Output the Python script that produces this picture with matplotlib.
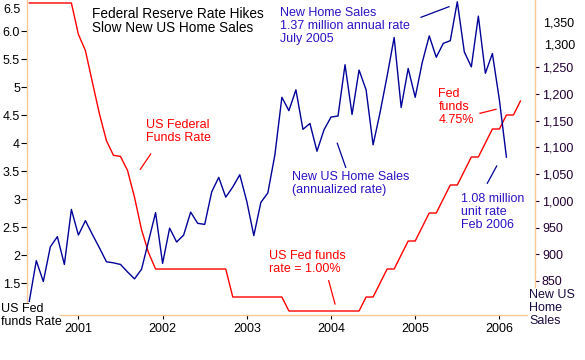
import numpy as np
import pandas as pd
import matplotlib
matplotlib.use('Agg')
import matplotlib.pyplot as plt
from matplotlib.lines import Line2D

plt.rcParams['font.family'] = ['Liberation Sans', 'DejaVu Sans']

W, H = 585, 360

# monthly, Jun 2000 - Apr 2006
months = pd.date_range('2000-06-01', '2006-04-01', freq='MS')
years = np.array(months.year + (months.month - 1) / 12.0)

fed_funds = [6.5, 6.5, 6.5, 6.5, 6.5, 6.5, 6.5,
             5.94, 5.65, 5.08, 4.52, 4.04, 3.78, 3.76, 3.51, 3.03, 2.45, 2.04, 1.75,
             1.75, 1.75, 1.75, 1.75, 1.75, 1.75, 1.75, 1.75, 1.75, 1.75, 1.25, 1.25,
             1.25, 1.25, 1.25, 1.25, 1.25, 1.25, 1.0, 1.0, 1.0, 1.0, 1.0, 1.0,
             1.0, 1.0, 1.0, 1.0, 1.0, 1.25, 1.25, 1.5, 1.75, 1.75, 2.0, 2.25,
             2.25, 2.5, 2.75, 2.75, 3.0, 3.25, 3.25, 3.5, 3.75, 3.75, 4.0, 4.25,
             4.25, 4.5, 4.5, 4.75]

# new home sales, thousands annualized, Jun 2000 - Feb 2006
home_sales = [812, 888, 849, 914, 933, 881, 984,
              936, 963, 937, 912, 886, 884, 881, 867, 854, 872, 925, 978,
              883, 949, 923, 936, 979, 958, 956, 1017, 1044, 1007, 1026, 1049,
              999, 935, 997, 1015, 1086, 1194, 1169, 1208, 1134, 1145, 1093, 1133,
              1157, 1159, 1255, 1162, 1245, 1208, 1105, 1166, 1234, 1306, 1175, 1248,
              1194, 1259, 1309, 1269, 1295, 1300, 1373, 1279, 1251, 1346, 1239, 1276,
              1189, 1082]

year_ticks = [2001, 2002, 2003, 2004, 2005, 2006]
left_ticks = [1.5, 2, 2.5, 3, 3.5, 4, 4.5, 5, 5.5, 6.0]
left_labels = ['1.5', '2', '2.5', '3', '3.5', '4', '4.5', '5', '5.5', '6.0']
right_ticks = [850, 900, 950, 1000, 1050, 1100, 1150, 1200, 1250]

RED = '#ff0000'
NAVY = '#000099'
BLUE_TXT = '#2b14c4'
PEACH = '#fcc896'


def fx(x):
    return x / W


def fy(y):
    return 1 - y / H


fig = plt.figure(figsize=(W / 100, H / 100), dpi=100)
ax = fig.add_axes([fx(27), fy(315), (535 - 27) / W, 315 / H])
ax.patch.set_visible(False)
ax2 = ax.twinx()

ax.plot(years, fed_funds, color=RED, lw=1.0)
ax2.plot(years[:len(home_sales)], home_sales, color=NAVY, lw=1.0)

ax.set_xlim(2001 + (27 - 78.4) / 84.2, 2001 + (535 - 78.4) / 84.2)
ax.set_ylim(1 - 4 / 56, 1 + 311 / 56)
ax2.set_ylim(850 - 34 / 0.534, 850 + 281 / 0.534)

for a in (ax, ax2):
    for s in a.spines.values():
        s.set_color(PEACH)
        s.set_linewidth(1.0)
    a.spines['top'].set_visible(False)
ax2.spines['left'].set_visible(False)
ax2.spines['bottom'].set_visible(False)
ax.spines['right'].set_visible(False)
ax.spines['left'].set_bounds(1 + (311 - 302) / 56, ax.get_ylim()[1])
ax2.spines['right'].set_bounds(850 + (281 - 287) / 0.534, ax2.get_ylim()[1])
ax.spines['bottom'].set_bounds(2001 + (60 - 78.4) / 84.2, 2001 + (527 - 78.4) / 84.2)

ax.set_xticks(year_ticks)
ax.set_xticklabels([str(y) for y in year_ticks])
ax.set_yticks(left_ticks)
ax.set_yticklabels(left_labels)
ax2.set_yticks(right_ticks)
ax2.set_yticklabels([f'{v:,}' for v in right_ticks])

ax.tick_params(axis='x', length=3, width=0.8, color='black', pad=3, labelsize=9)
ax.tick_params(axis='y', length=4, width=0.8, color='black', pad=1, labelsize=9)
ax2.tick_params(axis='y', length=3, width=0.8, color='#220033', pad=2,
                labelsize=9, labelcolor='#220033')

# displaced top labels
fig.text(fx(21), fy(10), '6.5', fontsize=9, ha='right', va='center')
fig.text(fx(544), fy(45), '1,300', fontsize=9, ha='left', va='center')
fig.text(fx(543), fy(23), '1,350', fontsize=9, ha='left', va='center')

ls = 1.12
fig.text(fx(92), fy(6.5), 'Federal Reserve Rate Hikes\nSlow New US Home Sales',
         fontsize=9.8, ha='left', va='top', linespacing=1.08)
fig.text(fx(280), fy(7), 'New Home Sales\n1.37 million annual rate\nJuly 2005',
         fontsize=9, color=BLUE_TXT, ha='left', va='top', linespacing=ls)
fig.text(fx(145.5), fy(119.3), 'US Federal\nFunds Rate',
         fontsize=9, color=RED, ha='left', va='top', linespacing=ls)
fig.text(fx(291.5), fy(170.6), 'New US Home Sales\n(annualized rate)',
         fontsize=9, color=BLUE_TXT, ha='left', va='top', linespacing=ls)
fig.text(fx(269.3), fy(250.3), 'US Fed funds\nrate = 1.00%',
         fontsize=9, color=RED, ha='left', va='top', linespacing=ls)
fig.text(fx(438.3), fy(87.6), 'Fed\nfunds\n4.75%',
         fontsize=9, color=RED, ha='left', va='top', linespacing=ls)
fig.text(fx(460.7), fy(192.6), '1.08 million\nunit rate\nFeb 2006',
         fontsize=9, color=BLUE_TXT, ha='left', va='top', linespacing=ls)
fig.text(fx(1), fy(302.6), 'US Fed\nfunds Rate',
         fontsize=9, color='black', ha='left', va='top', linespacing=ls)
fig.text(fx(529.3), fy(289.3), 'New US\nHome\nSales',
         fontsize=9, color='#1a0a40', ha='left', va='top', linespacing=ls)

# callout lines
callouts = [((421, 17.3), (449, 6.7), NAVY),
            ((140.3, 169.3), (150.7, 154), RED),
            ((337.3, 143.3), (345.7, 167.3), NAVY),
            ((328.7, 280.7), (335, 304), RED),
            ((480, 113.3), (496, 109.3), RED),
            ((487.3, 183.3), (496.7, 166), NAVY)]
for (x0, y0), (x1, y1), c in callouts:
    fig.add_artist(Line2D([fx(x0), fx(x1)], [fy(y0), fy(y1)], color=c, lw=0.9,
                          transform=fig.transFigure))

fig.savefig('out.png', dpi=100, facecolor='white')
